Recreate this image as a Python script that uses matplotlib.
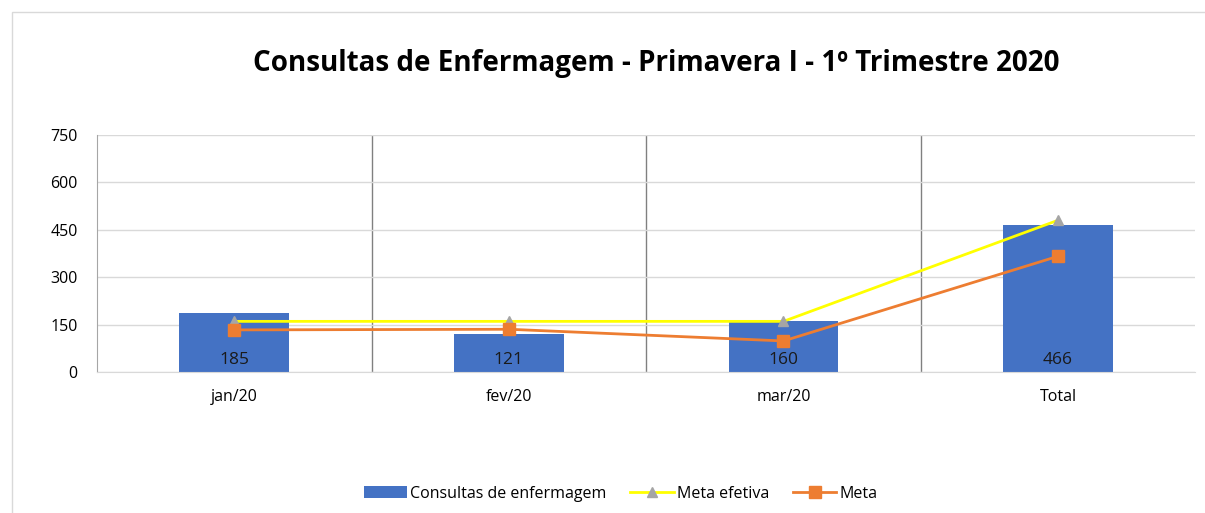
import numpy as np
import matplotlib.pyplot as plt
from matplotlib.patches import Rectangle

plt.rcParams['font.family'] = ['Open Sans', 'DejaVu Sans']

# chart data
categories = ['jan/20', 'fev/20', 'mar/20', 'Total']
consultas = [185, 121, 160, 466]
meta_efetiva = [160, 160, 160, 480]
meta = [133, 135, 98, 366]
y_ticks = [0, 150, 300, 450, 600, 750]

fig = plt.figure(figsize=(12.05, 5.13), dpi=100)
ax = fig.add_axes([0.0805, 0.275, 0.9115, 0.462])

x = np.arange(len(categories))
bars = ax.bar(x, consultas, width=0.4, color='#4472C4', zorder=2,
              label='Consultas de enfermagem')
l1, = ax.plot(x, meta_efetiva, color='#FFFF00', lw=2, marker='^', ms=7,
              mfc='#A5A5A5', mec='#A5A5A5', zorder=3, label='Meta efetiva')
l2, = ax.plot(x, meta, color='#ED7D31', lw=2, marker='s', ms=9,
              mfc='#ED7D31', mec='#ED7D31', zorder=4, label='Meta')

for xi, v in zip(x, consultas):
    ax.text(xi, 64, str(v), ha='center', va='top', fontsize=12.5,
            color='#1a1a1a', zorder=5)

ax.set_xlim(-0.5, 3.5)
ax.set_ylim(0, 750)
ax.set_yticks(y_ticks)
ax.set_xticks(x)
ax.set_xticklabels(categories, fontsize=11.5)
ax.tick_params(axis='y', labelsize=11.5, length=0, pad=14)
ax.tick_params(axis='x', length=0, pad=12)
ax.grid(axis='y', color='#D9D9D9', lw=1, zorder=0)
for b in [0.5, 1.5, 2.5]:
    ax.axvline(b, color='#808080', lw=1, zorder=1)

for s in ['top', 'right']:
    ax.spines[s].set_visible(False)
ax.spines['left'].set_color('#A6A6A6')
ax.spines['bottom'].set_color('#D9D9D9')

fig.text(0.545, 0.876, 'Consultas de Enfermagem - Primavera I - 1º Trimestre 2020',
         ha='center', va='center', fontsize=20, fontweight='bold')

fig.legend([bars, l1, l2], ['Consultas de enfermagem', 'Meta efetiva', 'Meta'],
           loc='center', bbox_to_anchor=(0.515, 0.038), ncol=3, frameon=False,
           fontsize=11.5, handlelength=2.7, columnspacing=1.5, handletextpad=0.2)

fig.patches.append(Rectangle((0.01, -0.1), 1.2, 1.077, transform=fig.transFigure,
                             fill=False, ec='#D9D9D9', lw=1))

fig.savefig('out.png', dpi=100)
